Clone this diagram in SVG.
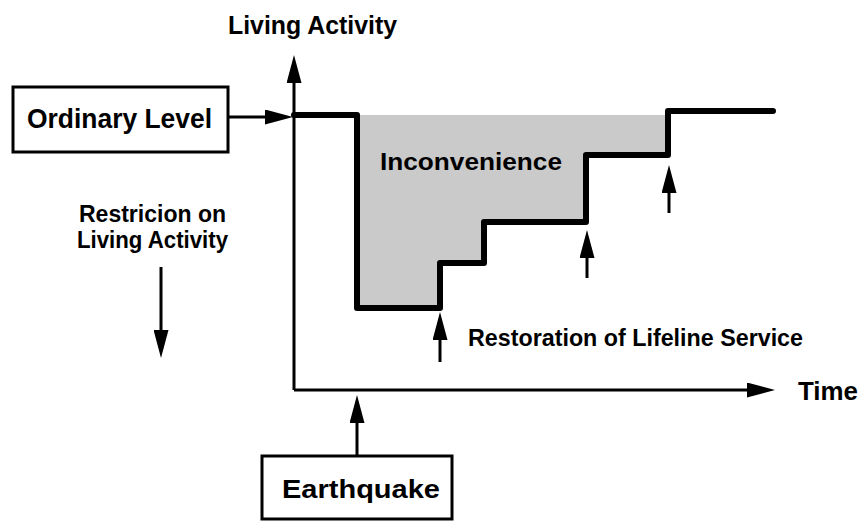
<svg xmlns="http://www.w3.org/2000/svg" width="862" height="522" viewBox="0 0 862 522">
  <style>
    .box { fill: #ffffff; stroke: #000000; stroke-width: 3; }
    .lbl { font-family: "Liberation Sans", Arial, Helvetica, sans-serif; font-weight: bold; fill: #000000; }
    .conn { stroke: #000000; stroke-width: 3; fill: none; }
    .curve { stroke: #000000; stroke-width: 6; fill: none; stroke-linejoin: round; stroke-linecap: round; }
  </style>
  <defs>
    <marker id="arrow" markerUnits="userSpaceOnUse" markerWidth="28" markerHeight="15" refX="20" refY="7.5" orient="auto" viewBox="0 0 28 15">
      <path d="M0,0 L28,7.5 L0,15 Z" fill="#000000"/>
    </marker>
  </defs>
  <rect x="0" y="0" width="862" height="522" fill="#ffffff"/>

  <g id="inconvenience-area">
    <path d="M357,115 L668,115 L668,155 L586,155 L586,222 L484,222 L484,263 L440,263 L440,308 L357,308 Z" fill="#cacaca"/>
    <text class="lbl" x="380" y="170" font-size="24" textLength="182" lengthAdjust="spacingAndGlyphs">Inconvenience</text>
  </g>

  <g id="activity-curve">
    <path class="curve" d="M294,115 L357,115 L357,308 L440,308 L440,263 L484,263 L484,222 L586,222 L586,155 L668,155 L668,111 L773,111"/>
  </g>

  <g id="connectors">
    <line class="conn" x1="294" y1="390" x2="294" y2="63" marker-end="url(#arrow)"/>
    <line class="conn" x1="294" y1="390" x2="767" y2="390" marker-end="url(#arrow)"/>
    <line class="conn" x1="228" y1="117" x2="285" y2="117" marker-end="url(#arrow)"/>
    <line class="conn" x1="161" y1="267" x2="161" y2="350" marker-end="url(#arrow)"/>
    <line class="conn" x1="357" y1="456" x2="357" y2="403" marker-end="url(#arrow)"/>
    <line class="conn" x1="440" y1="362" x2="440" y2="320" marker-end="url(#arrow)"/>
    <line class="conn" x1="587" y1="278" x2="587" y2="238" marker-end="url(#arrow)"/>
    <line class="conn" x1="669" y1="213" x2="669" y2="173" marker-end="url(#arrow)"/>
  </g>

  <g id="ordinary-level">
    <rect class="box" x="13" y="87" width="215" height="65"/>
    <text class="lbl" x="27" y="128" font-size="27" textLength="185" lengthAdjust="spacingAndGlyphs">Ordinary Level</text>
  </g>

  <g id="earthquake">
    <rect class="box" x="262" y="456" width="190" height="63"/>
    <text class="lbl" x="282" y="498" font-size="26" textLength="158" lengthAdjust="spacingAndGlyphs">Earthquake</text>
  </g>

  <g id="axis-living-activity">
    <text class="lbl" x="228" y="34" font-size="25" textLength="169" lengthAdjust="spacingAndGlyphs">Living Activity</text>
  </g>

  <g id="axis-time">
    <text class="lbl" x="798" y="400" font-size="26" textLength="60" lengthAdjust="spacingAndGlyphs">Time</text>
  </g>

  <g id="restriction">
    <text class="lbl" x="79" y="222" font-size="23" textLength="147" lengthAdjust="spacingAndGlyphs">Restricion on</text>
    <text class="lbl" x="77" y="248" font-size="23" textLength="151" lengthAdjust="spacingAndGlyphs">Living Activity</text>
  </g>

  <g id="restoration">
    <text class="lbl" x="468" y="346" font-size="24" textLength="335" lengthAdjust="spacingAndGlyphs">Restoration of Lifeline Service</text>
  </g>
</svg>
